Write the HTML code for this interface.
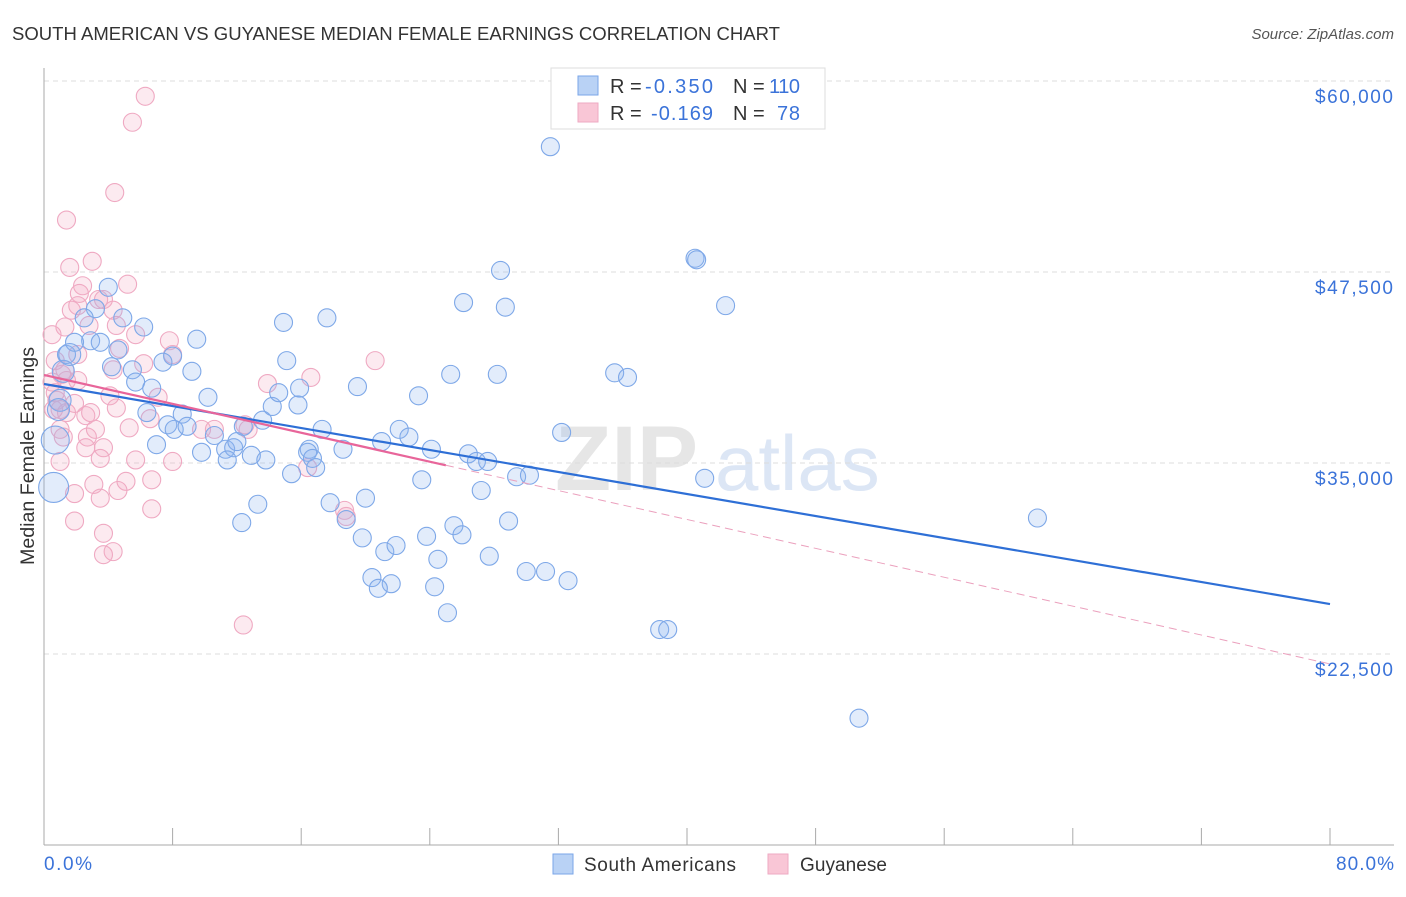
<!DOCTYPE html>
<html><head><meta charset="utf-8">
<style>
body{margin:0;background:#fff;font-family:"Liberation Sans",sans-serif;}
svg text{font-family:"Liberation Sans",sans-serif;}
</style></head>
<body>
<svg id="chart" width="1406" height="892" viewBox="0 0 1406 892" xmlns="http://www.w3.org/2000/svg">
<text x="12" y="40" font-size="18" fill="#333" textLength="768" lengthAdjust="spacingAndGlyphs">SOUTH AMERICAN VS GUYANESE MEDIAN FEMALE EARNINGS CORRELATION CHART</text>
<text x="1394" y="39" font-size="15" fill="#555" text-anchor="end" font-style="italic">Source: ZipAtlas.com</text>
<g>
<text x="555" y="490" font-size="92" fill="#e6e6e6" font-family="Liberation Serif" font-weight="bold">ZIP</text>
<text x="715" y="490" font-size="78" fill="#dce6f5">atlas</text>
</g>
<g id="grid"></g>
<g id="axes"></g>
<g id="pts"></g>
<g id="trend"></g>
<text transform="translate(34,456) rotate(-90)" font-size="19" fill="#333" text-anchor="middle" textLength="218" lengthAdjust="spacingAndGlyphs">Median Female Earnings</text>
<text x="44" y="870" font-size="19" fill="#3b73d9" textLength="48">0.0%</text>
<text x="1336" y="870" font-size="19" fill="#3b73d9" textLength="58">80.0%</text>
<g>
<rect x="551" y="68" width="274" height="61" fill="#fff" stroke="#ddd"/>
<rect x="578" y="76" width="20" height="19" fill="#b9d2f5" stroke="#7aa6e8"/>
<rect x="578" y="103" width="20" height="19" fill="#f9c6d6" stroke="#eeaac3"/>
<text x="610" y="93" font-size="20" fill="#333">R =</text>
<text x="645" y="93" font-size="20" fill="#3b73d9" textLength="68">-0.350</text>
<text x="733" y="93" font-size="20" fill="#333">N =</text>
<text x="769" y="93" font-size="20" fill="#3b73d9" textLength="31">110</text>
<text x="610" y="120" font-size="20" fill="#333">R =</text>
<text x="651" y="120" font-size="20" fill="#3b73d9" textLength="62">-0.169</text>
<text x="733" y="120" font-size="20" fill="#333">N =</text>
<text x="777" y="120" font-size="20" fill="#3b73d9" textLength="23">78</text>
</g>
<g>
<rect x="553" y="854" width="20" height="20" fill="#b9d2f5" stroke="#7aa6e8"/>
<text x="584" y="871" font-size="19" fill="#333" textLength="152">South Americans</text>
<rect x="768" y="854" width="20" height="20" fill="#f9c6d6" stroke="#eeaac3"/>
<text x="800" y="871" font-size="19" fill="#333" textLength="87">Guyanese</text>
</g>
</svg>
<script>
const yTicks=[60000,47500,35000,22500];
const yTickLabels=["$60,000","$47,500","$35,000","$22,500"];
const xTicks=[0,8,16,24,32,40,48,56,64,72,80];
const blueX=[31.5,28.4,40.5,40.6,42.4,26.1,28.7,4.0,4.9,14.9,17.6,6.2,3.2,2.5,2.9,1.4,1.9,3.5,4.6,9.5,8.0,7.4,15.1,4.2,5.5,5.7,6.7,9.2,10.2,6.4,8.6,7.7,8.1,8.9,10.6,11.3,11.8,12.0,11.4,9.8,12.9,7.0,13.8,12.4,13.6,14.2,14.6,15.8,15.9,19.5,17.3,18.6,16.5,16.4,16.7,16.9,15.4,21.0,22.1,22.7,23.3,25.3,28.2,35.5,36.3,32.2,24.1,26.4,26.9,27.6,29.4,30.2,41.1,23.5,27.2,17.8,20.0,13.3,12.3,18.8,25.5,26.0,28.9,23.8,19.8,21.2,21.9,24.5,27.7,20.4,21.6,20.8,24.3,30.0,31.2,32.6,25.1,38.3,38.8,50.7,61.8,0.6,0.7,1.0,1.2,1.6,0.9];
const blueY=[55.7,47.6,48.4,48.3,45.3,45.5,45.2,46.5,44.5,44.2,44.5,43.9,45.1,44.5,43.0,42.1,42.9,42.9,42.4,43.1,42.0,41.6,41.7,41.3,41.1,40.3,39.9,41.0,39.3,38.3,38.2,37.5,37.2,37.4,36.8,35.9,36.0,36.4,35.2,35.7,35.5,36.2,35.2,37.4,37.8,38.7,39.6,38.8,39.9,40.0,37.2,35.9,35.9,35.7,35.3,34.7,34.3,36.4,37.2,36.7,39.4,40.8,40.8,40.9,40.6,37.0,35.9,35.6,35.1,35.1,34.1,34.2,34.0,33.9,33.2,32.4,32.7,32.3,31.1,31.3,30.9,30.3,31.2,30.2,30.1,29.2,29.6,28.7,28.9,27.5,27.1,26.8,26.9,27.9,27.9,27.3,25.2,24.1,24.1,18.3,31.4,33.4,36.5,39.1,41.0,42.1,38.5];
const blueR=blueX.map((v,i)=>i===101?15:(i===102?14:(i>=103?11:9)));
const pinkX=[6.3,5.5,4.4,1.4,3.0,1.6,5.2,2.4,2.2,3.4,2.1,3.7,4.3,1.7,1.3,0.5,4.5,2.8,5.7,7.8,8.0,0.7,2.1,4.7,1.1,1.4,0.5,1.3,2.1,4.3,6.2,7.1,4.1,0.8,0.6,1.0,1.4,2.6,2.9,4.5,6.6,9.8,10.6,12.5,12.7,13.9,16.6,20.6,1.0,2.7,3.2,5.3,2.6,3.7,3.5,1.0,5.7,8.0,16.4,5.1,3.1,6.7,4.6,1.9,3.5,18.7,18.8,6.7,1.9,3.7,4.3,3.7,12.4,1.2,0.7,1.9];
const pinkY=[59.0,57.3,52.7,50.9,48.2,47.8,46.7,46.6,46.1,45.7,45.3,45.7,45.0,45.0,43.9,43.4,44.0,44.0,43.4,43.0,42.1,41.7,42.1,42.5,40.8,40.4,40.3,41.1,40.4,41.1,41.5,39.3,39.4,39.1,38.5,38.5,38.3,38.1,38.3,38.6,37.9,37.2,37.2,37.5,37.2,40.2,40.6,41.7,37.2,36.7,37.2,37.3,36.0,36.0,35.3,35.1,35.2,35.1,34.7,33.8,33.6,33.9,33.2,33.0,32.7,31.9,31.5,32.0,31.2,30.4,29.2,29.0,24.4,36.7,39.6,38.9];
const blueTrend=[[0,40.17],[80,25.77]];
const pinkTrend=[[0,40.76],[25,34.85],[80,21.85]];
const NS='http://www.w3.org/2000/svg';
const X=v=>44+v*16.075;
const Y=k=>81+(60-k)*15.28;
function mk(t,a,p){const e=document.createElementNS(NS,t);for(const k in a)e.setAttribute(k,a[k]);p.appendChild(e);return e;}
const grid=document.getElementById('grid'),axes=document.getElementById('axes'),pts=document.getElementById('pts'),trend=document.getElementById('trend');
yTicks.forEach((t,i)=>{
 const l=mk('line',{x1:44,x2:1394,y1:Y(t/1000),y2:Y(t/1000),stroke:'#dcdcdc','stroke-dasharray':'5,4'},grid);
 
 
 const tx=mk('text',{x:1315,y:Y(t/1000)+22,'font-size':19,fill:'#3b73d9',textLength:78},axes);
 tx.textContent=yTickLabels[i];
 
 
});
const la=mk('line',{x1:44,x2:44,y1:68,y2:845,stroke:'#aaa'},axes);


const lb=mk('line',{x1:44,x2:1394,y1:845,y2:845,stroke:'#aaa'},axes);


xTicks.forEach(t=>{
 const l=mk('line',{x1:X(t),x2:X(t),y1:828,y2:845,stroke:'#aaa'},axes);
 
 
});
pinkX.forEach((v,i)=>{
 const c=mk('circle',{cx:X(v),cy:Y(pinkY[i]),r:9,fill:'rgba(245,170,195,0.25)',stroke:'#efa9c2','stroke-width':1.1},pts);
 
 
});
blueX.forEach((v,i)=>{
 const c=mk('circle',{cx:X(v),cy:Y(blueY[i]),r:blueR[i],fill:'rgba(140,180,240,0.25)',stroke:'#7ea8e8','stroke-width':1.1},pts);
 
 
});
const bt=mk('line',{x1:X(blueTrend[0][0]),y1:Y(blueTrend[0][1]),x2:X(blueTrend[1][0]),y2:Y(blueTrend[1][1]),stroke:'#2e6fd6','stroke-width':2.2},trend);


const pt=mk('line',{x1:X(pinkTrend[0][0]),y1:Y(pinkTrend[0][1]),x2:X(pinkTrend[1][0]),y2:Y(pinkTrend[1][1]),stroke:'#e8659a','stroke-width':2.2},trend);


const pd=mk('line',{x1:X(pinkTrend[1][0]),y1:Y(pinkTrend[1][1]),x2:X(pinkTrend[2][0]),y2:Y(pinkTrend[2][1]),stroke:'#eba0bd','stroke-width':1,'stroke-dasharray':'8,5'},trend);


</script>
</body></html>
